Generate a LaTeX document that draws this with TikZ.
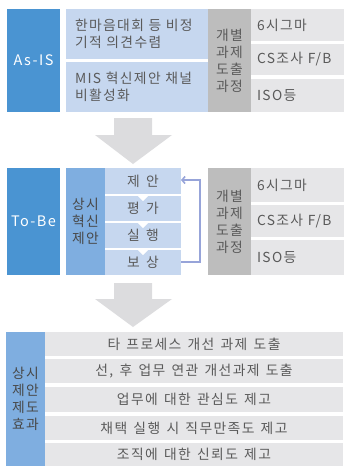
\documentclass[tikz,border=0pt]{standalone}
\usepackage{fontspec}
\setmainfont{Noto Sans CJK KR}[LetterSpace=10,WordSpace=1.4]
\usetikzlibrary{arrows.meta}
\definecolor{dblue}{HTML}{4A94D2}
\definecolor{lblue}{HTML}{C6D7EF}
\definecolor{mblue}{HTML}{7FAEE0}
\definecolor{dgray}{HTML}{BDBDBD}
\definecolor{lgray}{HTML}{E6E6E8}
\definecolor{agray}{HTML}{DCDCDE}
\definecolor{txt}{HTML}{5A5A5A}
\tikzset{
  cell/.style={inner sep=0pt, outer sep=0pt, anchor=north west, font=\fontsize{13.8}{17}\selectfont, text=txt},
  headbox/.style={cell, fill=dblue, text=white, font=\fontsize{14.5}{16}\selectfont},
  lbox/.style={cell, fill=lblue, align=left, text width=#1},
  vbox/.style={cell, align=center},
  rrow/.style={cell, fill=lgray, align=left, text width=86pt, minimum width=92pt},
  steprow/.style={cell, fill=lblue, minimum width=76pt},
  effrow/.style={cell, fill=lgray, minimum width=298pt},
  bigarrow/.style={fill=agray, draw=none},
  notch/.style={fill=white, draw=none},
  feedback/.style={draw=lblue!85!blue!90!black, line width=1.6pt, -{Straight Barb[length=3pt,width=7pt]}}
}
\begin{document}
\begin{tikzpicture}[x=1pt,y=-1pt]
\useasboundingbox (0,0) rectangle (343,466);
% ---------- section 1 ----------
\node[headbox, minimum width=53pt, minimum height=103pt] (asis) at (7,9) {As-IS};
\node[lbox=127pt, minimum width=136pt, minimum height=50pt, inner xsep=9pt] (b1) at (66,9) {한마음대회 등 비정\\기적 의견수렴};
\node[lbox=127pt, minimum width=136pt, minimum height=50pt, inner xsep=9pt] (b2) at (66,62) {MIS 혁신제안 채널\\비활성화};
\node[vbox, fill=dgray, minimum width=43pt, minimum height=103pt] (g1) at (208,9) {개별\\과제\\도출\\과정};
\node[rrow, minimum height=32pt, inner xsep=6pt] (r11) at (251,9) {6시그마};
\node[rrow, minimum height=31pt, inner xsep=6pt] (r12) at (251,44) {CS조사 F/B};
\node[rrow, minimum height=33pt, inner xsep=6pt] (r13) at (251,79) {ISO등};
% arrow 1
\fill[bigarrow] (114,118) -- (152,118) -- (152,135) -- (172,135) -- (133,164) -- (95,135) -- (114,135) -- cycle;
% ---------- section 2 ----------
\node[headbox, minimum width=53pt, minimum height=107pt] (tobe) at (7,168) {To-Be};
\node[vbox, fill=mblue, text=txt!80!black, minimum width=39pt, minimum height=107pt] (mid) at (66,168) {상시\\혁신\\제안};
\node[steprow, minimum height=26pt] (s1) at (105,168) {제 안};
\node[steprow, minimum height=25pt] (s2) at (105,196) {평 가};
\node[steprow, minimum height=25pt] (s3) at (105,223) {실 행};
\node[steprow, minimum height=25pt] (s4) at (105,250) {보 상};
\fill[notch] (138,196) -- (148,196) -- (143,201) -- cycle;
\fill[notch] (138,223) -- (148,223) -- (143,228) -- cycle;
\fill[notch] (138,250) -- (148,250) -- (143,255) -- cycle;
\coordinate (fbr) at (200,262);
\coordinate (fbt) at (200,180);
\draw[feedback] (s4.east |- fbr) -- (fbr) -- (fbt) -- (s1.east |- fbt);
\node[vbox, fill=dgray, minimum width=43pt, minimum height=107pt] (g2) at (208,168) {개별\\과제\\도출\\과정};
\node[rrow, minimum height=34pt, inner xsep=6pt] (r21) at (251,168) {6시그마};
\node[rrow, minimum height=32pt, inner xsep=6pt] (r22) at (251,205) {CS조사 F/B};
\node[rrow, minimum height=35pt, inner xsep=6pt] (r23) at (251,240) {ISO등};
% arrow 2
\fill[bigarrow] (114,283) -- (152,283) -- (152,299) -- (172,299) -- (133,327) -- (95,299) -- (114,299) -- cycle;
% ---------- section 3 ----------
\node[vbox, fill=mblue, text=txt!80!black, minimum width=39pt, minimum height=134pt] (eff) at (6,332) {상시\\제안\\제도\\효과};
\node[effrow, minimum height=24pt] (e1) at (45,332) {타 프로세스 개선 과제 도출};
\node[effrow, minimum height=24pt] (e2) at (45,359) {선, 후 업무 연관 개선과제 도출};
\node[effrow, minimum height=25pt] (e3) at (45,387) {업무에 대한 관심도 제고};
\node[effrow, minimum height=24pt] (e4) at (45,416) {채택 실행 시 직무만족도 제고};
\node[effrow, minimum height=23pt] (e5) at (45,443) {조직에 대한 신뢰도 제고};
\end{tikzpicture}
\end{document}
